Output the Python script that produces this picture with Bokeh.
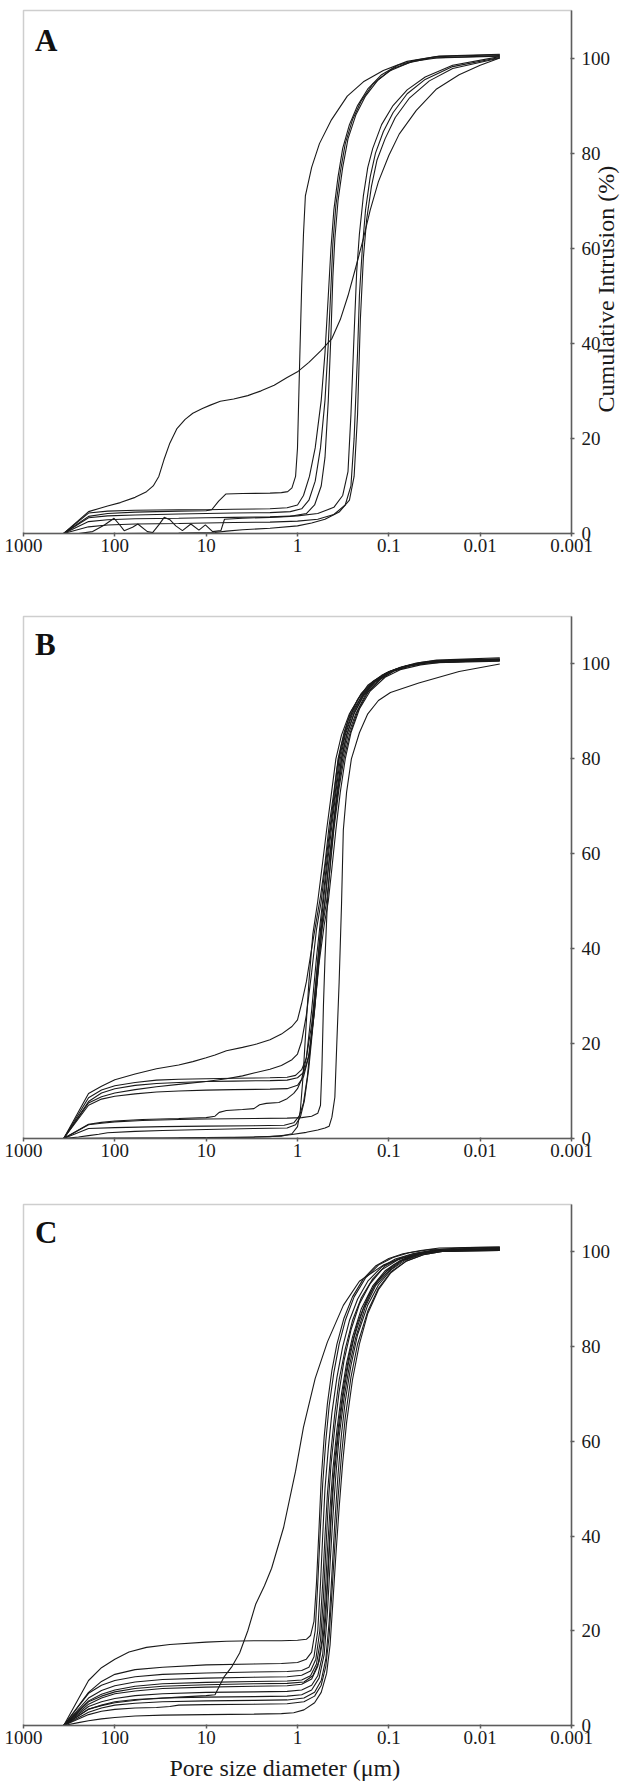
import math
from bokeh.plotting import figure
from bokeh.layouts import column
from bokeh.models import Range1d, FixedTicker, Label, LinearAxis, LogAxis, BoxAnnotation
from bokeh.embed import file_html
from bokeh.resources import INLINE

# ---------------- data ----------------
X_TICKS = [1000, 100, 10, 1, 0.1, 0.01, 0.001]
X_TICK_LABELS = ["1000", "100", "10", "1", "0.1", "0.01", "0.001"]
Y_TICKS = [0, 20, 40, 60, 80, 100]
PANEL_LETTERS = ["A", "B", "C"]
Y_TITLE = "Cumulative Intrusion (%)"
X_TITLE = "Pore size diameter (\u03bcm)"

# each curve: (pore diameter in um, cumulative intrusion in %)
PANEL_A = [
    [(363,0),(194,3.6),(120,4.2),(60,4.5),(20,4.7),(10,4.8),(8.7,5.0),(7.3,6.8),(6.1,8.3),(4,8.4),(2,8.5),(1.5,8.6),(1.28,8.8),(1.15,9.6),(1.05,12),(1.0,18),(0.95,35),(0.9,52),(0.86,63),(0.82,71),(0.7,77),(0.575,82),(0.425,87),(0.285,92),(0.19,95),(0.115,97.4),(0.063,99.3),(0.028,100.4),(0.0061,100.8)],
    [(363,0),(194,4.3),(120,4.7),(60,4.9),(20,5.0),(10,5.0),(5,5.1),(2,5.2),(1.3,5.4),(1.0,6),(0.86,8),(0.74,12),(0.64,18),(0.55,28),(0.5,38),(0.46,50),(0.43,60),(0.4,68),(0.36,75),(0.32,81),(0.27,86),(0.22,90),(0.17,93.5),(0.12,96.5),(0.08,98.5),(0.05,99.6),(0.03,100.3),(0.0061,100.7)],
    [(363,0),(194,3.3),(120,3.7),(60,3.9),(20,4.1),(10,4.2),(5,4.3),(2,4.4),(1.2,4.6),(0.9,5.2),(0.75,7),(0.64,11),(0.56,18),(0.5,28),(0.46,40),(0.43,52),(0.41,61),(0.38,69),(0.34,76),(0.3,82),(0.25,87),(0.2,91),(0.15,94.5),(0.1,97.2),(0.06,99),(0.035,100),(0.0061,100.5)],
    [(363,0),(250,0),(175,0.4),(130,1.8),(102,3.2),(90,2.0),(79,0.6),(64,1.3),(56,2.0),(44,0.4),(38.6,0.2),(33,1.8),(28.8,3.4),(25,2.9),(21.5,1.6),(18.2,0.6),(14.7,2.0),(12,0.7),(10.2,1.8),(8.5,0.4),(6.9,0.6),(6.3,3.0),(4,3.2),(2,3.4),(1.2,3.6),(0.8,4.2),(0.65,6),(0.55,10),(0.5,16),(0.46,28),(0.43,42),(0.41,54),(0.39,62),(0.36,70),(0.32,77),(0.28,83),(0.23,88),(0.18,92),(0.13,95.5),(0.09,97.8),(0.055,99.3),(0.03,100),(0.0061,100.4)],
    [(363,0),(194,4.6),(120,5.8),(87,6.5),(60,7.6),(45,8.8),(38,10),(33,12),(29,15.5),(25,19),(21,22),(17,24),(14,25.3),(11,26.3),(9,27),(7,27.8),(5,28.3),(3.5,29),(2.5,30),(1.8,31.2),(1.3,32.8),(1,34),(0.75,36),(0.55,38.5),(0.42,41),(0.34,45),(0.28,50),(0.23,56),(0.19,62),(0.16,68),(0.13,74),(0.1,79.5),(0.077,84),(0.05,89),(0.03,93.5),(0.017,96.5),(0.01,98.5),(0.0061,100)],
    [(363,0),(194,2.5),(120,2.9),(60,3.1),(20,3.2),(10,3.3),(5,3.4),(2,3.5),(1,3.7),(0.6,4.2),(0.4,5.5),(0.32,8),(0.28,13),(0.26,25),(0.24,42),(0.225,55),(0.21,63),(0.19,71),(0.17,77),(0.15,81),(0.12,86),(0.09,90),(0.063,93.3),(0.04,96),(0.02,98.5),(0.0061,100.3)],
    [(363,0),(194,1.4),(120,1.8),(60,2.0),(20,2.1),(10,2.2),(5,2.3),(2,2.4),(1,2.6),(0.6,3.0),(0.4,4.0),(0.3,6),(0.26,10),(0.24,20),(0.22,38),(0.21,50),(0.195,60),(0.18,68),(0.16,75),(0.14,80),(0.115,84.5),(0.09,88.5),(0.063,92.5),(0.04,95.5),(0.02,98.2),(0.0061,100.1)],
    [(363,0),(250,0),(100,0),(20,0.1),(8,0.2),(6,0.5),(4,0.8),(2,1.1),(1,1.6),(0.7,2.2),(0.5,3.0),(0.35,4.5),(0.27,7),(0.24,12),(0.22,25),(0.205,45),(0.19,58),(0.175,66),(0.155,73),(0.135,78.5),(0.11,83),(0.085,87.5),(0.06,91.5),(0.036,95.2),(0.02,97.8),(0.0061,100)],
]

PANEL_B = [
    [(363,0),(194,9.5),(140,11),(100,12.4),(60,13.6),(35,14.7),(20,15.5),(14,16.2),(10,17),(8,17.6),(6,18.5),(4,19.2),(2.8,19.9),(2,20.8),(1.5,22),(1.15,23.6),(1,25),(0.9,28.5),(0.8,33),(0.7,40),(0.62,46),(0.56,51),(0.5,58),(0.45,66),(0.4,73),(0.37,78),(0.33,83),(0.28,88),(0.22,92.5),(0.17,95.5),(0.12,97.6),(0.085,98.9),(0.06,99.7),(0.04,100.3),(0.02,100.8),(0.0061,101.1)],
    [(363,0),(194,8.6),(140,10.2),(100,11.1),(60,11.8),(35,12.3),(20,12.5),(10,12.6),(5,12.7),(2,12.8),(1.3,12.9),(1.05,13.3),(0.9,14.5),(0.8,17),(0.7,24),(0.62,34),(0.56,44),(0.52,50),(0.47,58),(0.42,66),(0.38,73),(0.34,80),(0.3,85),(0.25,89.5),(0.2,93),(0.15,96),(0.11,98),(0.075,99.3),(0.05,100.2),(0.03,100.8),(0.0061,101.3)],
    [(363,0),(194,7.8),(140,9.6),(100,10.5),(60,11.2),(35,11.6),(20,11.8),(10,12.0),(5,12.1),(2,12.2),(1.3,12.3),(1.0,12.8),(0.85,14),(0.74,18),(0.65,27),(0.58,38),(0.53,46),(0.5,50),(0.46,57),(0.41,65),(0.37,72),(0.33,80),(0.29,85),(0.24,89.5),(0.19,93.2),(0.14,96.2),(0.1,98.2),(0.07,99.4),(0.045,100.3),(0.03,100.7),(0.0061,100.9)],
    [(363,0),(194,7.5),(140,8.8),(100,9.6),(60,10.3),(35,10.9),(20,11.4),(10,12.0),(6,12.6),(4,13.2),(3,13.8),(2,14.6),(1.5,15.4),(1.15,16.6),(1.0,17.8),(0.9,20.5),(0.8,26),(0.7,35),(0.62,44),(0.55,50),(0.5,57),(0.45,64),(0.4,72),(0.36,80),(0.31,85.5),(0.26,90),(0.2,93.8),(0.15,96.3),(0.1,98.4),(0.07,99.4),(0.045,100.2),(0.025,100.7),(0.0061,101)],
    [(363,0),(194,7.0),(140,8.3),(100,8.9),(60,9.4),(35,9.8),(20,10.0),(10,10.2),(5,10.3),(2,10.4),(1.3,10.5),(1.0,11.2),(0.86,13),(0.76,17),(0.67,25),(0.6,35),(0.54,44),(0.48,50),(0.44,57),(0.4,65),(0.35,74),(0.31,80),(0.27,85),(0.22,90),(0.17,94),(0.12,97),(0.085,98.7),(0.055,99.8),(0.035,100.5),(0.0061,100.9)],
    [(363,0),(194,3.0),(140,3.4),(100,3.7),(50,4.0),(20,4.2),(10,4.4),(8,4.7),(7.2,5.5),(6,5.9),(4,6.1),(3,6.3),(2.6,7.1),(2.2,7.4),(1.6,7.6),(1.3,8.4),(1.1,9.5),(1.0,10.5),(0.9,12.5),(0.8,17),(0.7,27),(0.62,38),(0.56,46),(0.53,50),(0.48,58),(0.43,66),(0.38,74),(0.35,80),(0.3,85.5),(0.25,90),(0.19,93.8),(0.14,96.5),(0.1,98.3),(0.065,99.5),(0.04,100.3),(0.02,100.8),(0.0061,101)],
    [(363,0),(194,2.9),(140,3.2),(100,3.5),(50,3.8),(20,4.0),(10,4.1),(3,4.2),(1.3,4.3),(0.9,4.4),(0.7,4.7),(0.6,5.3),(0.56,7),(0.54,15),(0.52,28),(0.5,38),(0.47,50),(0.43,60),(0.39,68),(0.35,75),(0.32,80),(0.28,85),(0.23,89.5),(0.18,93.5),(0.13,96.5),(0.09,98.4),(0.06,99.5),(0.04,100.2),(0.0061,100.8)],
    [(363,0),(194,2.1),(100,2.3),(30,2.5),(10,2.6),(3,2.7),(1.4,2.8),(1.1,3.3),(0.95,4.8),(0.86,7.5),(0.78,13),(0.7,22),(0.63,33),(0.57,42),(0.5,50),(0.46,57),(0.41,65),(0.37,73),(0.33,80),(0.29,85),(0.24,89.7),(0.19,93.4),(0.14,96.4),(0.095,98.4),(0.06,99.6),(0.035,100.3),(0.0061,100.8)],
    [(363,0),(250,0.3),(194,0.6),(150,0.9),(120,1.2),(60,1.5),(30,1.7),(10,1.9),(3,2.1),(1.3,2.2),(1.05,2.9),(0.93,4.5),(0.84,8),(0.75,15),(0.66,26),(0.58,37),(0.51,45),(0.46,50),(0.42,57),(0.38,65),(0.34,73),(0.3,80),(0.26,85.5),(0.21,90.5),(0.16,94.3),(0.11,97.2),(0.075,98.8),(0.045,99.8),(0.025,100.4),(0.0061,100.7)],
    [(363,0),(100,0.1),(30,0.1),(10,0.2),(3,0.3),(1.5,0.5),(1.15,1.0),(1.0,2.5),(0.93,6),(0.87,13),(0.81,23),(0.75,33),(0.68,43),(0.6,50),(0.54,57),(0.48,65),(0.43,72),(0.38,80),(0.33,85),(0.27,89.5),(0.21,93),(0.15,96.2),(0.1,98.3),(0.065,99.5),(0.04,100.2),(0.0061,100.6)],
    [(363,0),(100,0),(20,0.1),(5,0.2),(2,0.4),(1.2,0.8),(0.8,1.3),(0.6,1.8),(0.5,2.2),(0.45,2.6),(0.42,4.5),(0.39,8.7),(0.37,20.8),(0.35,33),(0.33,49),(0.315,65),(0.29,73),(0.257,80),(0.21,85.5),(0.17,89.5),(0.13,92.3),(0.096,94),(0.047,96),(0.017,98.4),(0.0061,100)],
]

PANEL_C = [
    [(363,0),(194,3.5),(140,4.2),(100,4.8),(50,5.5),(20,6.0),(10,6.3),(8,6.5),(6.4,10.2),(5.2,12.5),(4.3,15.3),(3.5,20),(2.87,25.6),(2.3,29.5),(1.92,33.2),(1.42,41.8),(1.05,53.7),(0.86,63),(0.64,73.3),(0.47,81),(0.315,88.7),(0.21,93.8),(0.115,97.2),(0.075,98.6),(0.047,99.5),(0.028,100.5),(0.015,100.9),(0.0061,101)],
    [(363,0),(194,9.5),(140,12.2),(100,14),(70,15.5),(45,16.5),(25,17.1),(10,17.6),(6,17.8),(3,17.9),(1.5,17.9),(1.0,18),(0.8,18.2),(0.72,19),(0.66,22),(0.62,30),(0.58,42),(0.55,52),(0.51,61),(0.47,68),(0.42,75),(0.37,80.5),(0.31,86),(0.25,90.5),(0.19,94.3),(0.14,97),(0.1,98.6),(0.07,99.6),(0.045,100.3),(0.028,100.8),(0.0061,101)],
    [(363,0),(194,7),(140,9.3),(100,10.8),(60,11.8),(30,12.3),(10,12.8),(3,13),(1.5,13.1),(1.0,13.3),(0.8,14),(0.7,15.5),(0.64,20),(0.6,30),(0.56,42),(0.53,51),(0.49,60),(0.45,67.5),(0.4,74.5),(0.35,80.5),(0.3,85.5),(0.24,90.5),(0.18,94.5),(0.13,97.2),(0.09,98.8),(0.06,99.8),(0.035,100.5),(0.0061,100.9)],
    [(363,0),(194,6.8),(140,8.5),(100,9.5),(60,10.3),(30,10.8),(10,11.1),(3,11.3),(1.3,11.4),(0.9,11.6),(0.75,12.3),(0.66,14.5),(0.6,20),(0.56,30),(0.53,40),(0.5,50),(0.46,58.5),(0.42,66),(0.37,73.5),(0.32,80),(0.27,85.5),(0.22,90),(0.17,93.8),(0.12,96.8),(0.085,98.5),(0.055,99.6),(0.035,100.3),(0.0061,100.8)],
    [(363,0),(194,5.8),(140,7.4),(100,8.4),(60,9.2),(30,9.7),(10,10.0),(3,10.2),(1.3,10.3),(0.9,10.6),(0.72,11.5),(0.63,14),(0.57,20),(0.53,30),(0.5,40),(0.47,49),(0.43,58),(0.39,66),(0.35,73),(0.3,79.5),(0.25,85.5),(0.2,90.3),(0.15,94.3),(0.11,97),(0.075,98.7),(0.05,99.7),(0.03,100.4),(0.0061,100.7)],
    [(363,0),(194,5.2),(140,6.6),(100,7.5),(60,8.3),(30,8.8),(10,9.1),(3,9.3),(1.3,9.4),(0.9,9.6),(0.72,10.5),(0.62,13),(0.56,18),(0.52,27),(0.49,37),(0.46,47),(0.43,55),(0.39,63),(0.35,70.5),(0.31,77),(0.26,83.5),(0.21,89),(0.16,93.3),(0.12,96.2),(0.08,98.3),(0.05,99.6),(0.03,100.3),(0.0061,100.6)],
    [(363,0),(194,4.5),(140,5.8),(100,6.7),(60,7.3),(30,7.8),(10,8.1),(3,8.3),(1.3,8.4),(0.9,8.7),(0.7,9.8),(0.6,12.5),(0.54,18),(0.5,27),(0.47,37),(0.44,46),(0.41,54),(0.37,62.5),(0.33,70),(0.29,76.5),(0.25,82),(0.2,88),(0.15,92.8),(0.11,96),(0.075,98.2),(0.05,99.5),(0.03,100.2),(0.0061,100.6)],
    [(363,0),(194,4.0),(140,5.0),(100,5.7),(60,6.3),(30,6.7),(10,7.0),(3,7.1),(1.3,7.2),(0.9,7.5),(0.7,8.5),(0.6,10.5),(0.53,15),(0.49,23),(0.46,33),(0.43,43),(0.4,52),(0.36,61),(0.32,69),(0.28,76),(0.24,82),(0.19,88),(0.145,92.8),(0.105,96),(0.072,98.2),(0.048,99.5),(0.03,100.2),(0.0061,100.5)],
    [(363,0),(194,3.4),(140,4.3),(100,5.0),(60,5.5),(30,5.8),(10,6.0),(3,6.1),(1.3,6.2),(0.9,6.5),(0.7,7.5),(0.58,10),(0.51,15),(0.47,24),(0.44,34),(0.41,44),(0.38,53),(0.35,61),(0.31,69),(0.27,76),(0.23,82),(0.18,88.5),(0.14,92.8),(0.1,96),(0.07,98.2),(0.045,99.5),(0.028,100.2),(0.0061,100.5)],
    [(363,0),(194,2.8),(140,3.7),(100,4.3),(60,4.7),(30,5.0),(10,5.2),(3,5.3),(1.3,5.4),(0.85,5.8),(0.65,7),(0.55,9.5),(0.49,14),(0.45,22),(0.42,32),(0.39,43),(0.36,53),(0.33,61.5),(0.3,68.5),(0.26,76),(0.22,82.5),(0.17,88.8),(0.13,93),(0.095,96.2),(0.065,98.3),(0.042,99.6),(0.026,100.2),(0.0061,100.4)],
    [(363,0),(194,2.3),(140,3.0),(100,3.4),(60,3.7),(35,3.8),(25,4.0),(20,4.3),(10,4.4),(3,4.5),(1.3,4.6),(0.85,5),(0.65,6.2),(0.55,8.5),(0.49,12.5),(0.45,19),(0.42,28),(0.39,38),(0.36,48),(0.33,57),(0.3,65),(0.26,73.5),(0.22,80.5),(0.17,87.5),(0.13,92.3),(0.095,95.8),(0.065,98),(0.042,99.4),(0.026,100.1),(0.0061,100.3)],
    [(363,0),(250,0.6),(194,1.0),(140,1.4),(100,1.7),(60,2.0),(30,2.2),(10,2.3),(3,2.4),(1.5,2.5),(1.1,2.7),(0.85,3.3),(0.65,4.8),(0.55,7),(0.48,11),(0.44,17),(0.41,26),(0.38,36),(0.35,46),(0.32,55.5),(0.29,64),(0.25,73),(0.21,80.5),(0.17,87),(0.13,92),(0.095,95.6),(0.065,98),(0.042,99.4),(0.026,100.1),(0.0061,100.3)],
    [(363,0),(194,5),(140,6.2),(100,7.1),(60,7.8),(30,8.3),(10,8.6),(3,8.8),(1.3,8.9),(0.85,9.2),(0.68,10.5),(0.58,13.5),(0.52,19),(0.48,28),(0.45,38),(0.42,48),(0.39,56),(0.35,64.5),(0.31,72),(0.27,78.5),(0.22,85),(0.17,90.5),(0.13,94.2),(0.09,97.2),(0.06,99),(0.038,100),(0.0061,100.6)],
]

# ---------------- styling ----------------
FONT = "Liberation Serif"
INK = "#1a1a1a"
FRAME = "#5e5e5e"
X_START, X_END = 1000, 0.001
Y_START, Y_END = 0, 110
Y_TITLE_MID = 51.4    # y value at which the vertical title is centred
X_TITLE_AT = 1.377    # x value under which the x title is centred
FIG_W, LEFT, PLOT_W, RIGHT = 624, 23, 548, 53


def style_axis(ax, standoff):
    ax.axis_line_color = FRAME
    ax.axis_line_width = 1.5
    ax.major_tick_line_color = FRAME
    ax.major_tick_line_width = 1.5
    ax.major_tick_in = 1
    ax.major_tick_out = 3
    ax.minor_tick_line_color = None
    ax.major_label_text_font = FONT
    ax.major_label_text_font_size = "19px"
    ax.major_label_text_color = INK
    ax.major_label_standoff = standoff


def make_panel(curves, letter, top, frame_h, bottom, letter_drop):
    # the plotting area spans the whole canvas; the box and the axes are pinned
    # to the data edges, so titles can sit outside the box without clipping
    per_dec = PLOT_W / (math.log10(X_START) - math.log10(X_END))
    per_unit = frame_h / (Y_END - Y_START)
    x_lo = 10 ** (math.log10(X_START) + LEFT / per_dec)
    x_hi = 10 ** (math.log10(X_END) - RIGHT / per_dec)
    y_hi = Y_END + top / per_unit
    y_lo = Y_START - bottom / per_unit
    p = figure(width=FIG_W, height=top + frame_h + bottom,
               x_axis_type="log", x_range=Range1d(x_lo, x_hi),
               y_range=Range1d(y_lo, y_hi),
               x_axis_location=None, y_axis_location=None,
               output_backend="svg", toolbar_location=None,
               min_border=0, min_border_left=0, min_border_right=0,
               min_border_top=0, min_border_bottom=0)
    p.outline_line_color = None
    p.grid.visible = False
    p.grid.grid_line_color = None
    p.background_fill_color = "white"
    p.border_fill_color = "white"

    p.add_layout(BoxAnnotation(left=X_START, right=X_END, bottom=Y_START, top=Y_END,
                               fill_color=None, fill_alpha=0,
                               line_color=FRAME, line_width=1.5))
    xax = LogAxis(fixed_location=Y_START, bounds=(X_END, X_START),
                  ticker=FixedTicker(ticks=X_TICKS),
                  major_label_overrides=dict(zip(X_TICKS, X_TICK_LABELS)))
    style_axis(xax, 2)
    p.add_layout(xax, "below")
    yax = LinearAxis(fixed_location=X_END, bounds=(Y_START, Y_END),
                     ticker=FixedTicker(ticks=Y_TICKS))
    style_axis(yax, 7)
    p.add_layout(yax, "right")

    for c in curves:
        p.line([d for d, v in c], [v for d, v in c], line_color=INK, line_width=1.1)

    p.add_layout(Label(x=X_START, y=Y_END, x_offset=11.5, y_offset=-letter_drop,
                       text=letter, text_font=FONT, text_font_style="bold",
                       text_font_size="31px", text_color="#111",
                       text_align="left", text_baseline="alphabetic"))
    return p


pA = make_panel(PANEL_A, PANEL_LETTERS[0], 10, 523, 40, 30)
pB = make_panel(PANEL_B, PANEL_LETTERS[1], 43, 522, 33, 27.5)
pC = make_panel(PANEL_C, PANEL_LETTERS[2], 33, 521, 60, 27.5)

pA.add_layout(Label(x=X_END, y=Y_TITLE_MID, x_offset=34, text=Y_TITLE,
                    angle=math.pi / 2, text_font=FONT, text_font_size="24px",
                    text_color=INK, text_align="center", text_baseline="alphabetic"))
pC.add_layout(Label(x=X_TITLE_AT, y=Y_START, y_offset=-42.5, text=X_TITLE,
                    text_font=FONT, text_font_size="24px", text_color=INK,
                    text_align="center", text_baseline="alphabetic"))

layout = column(pA, pB, pC)
open("out.html", "w").write(file_html(layout, INLINE))
